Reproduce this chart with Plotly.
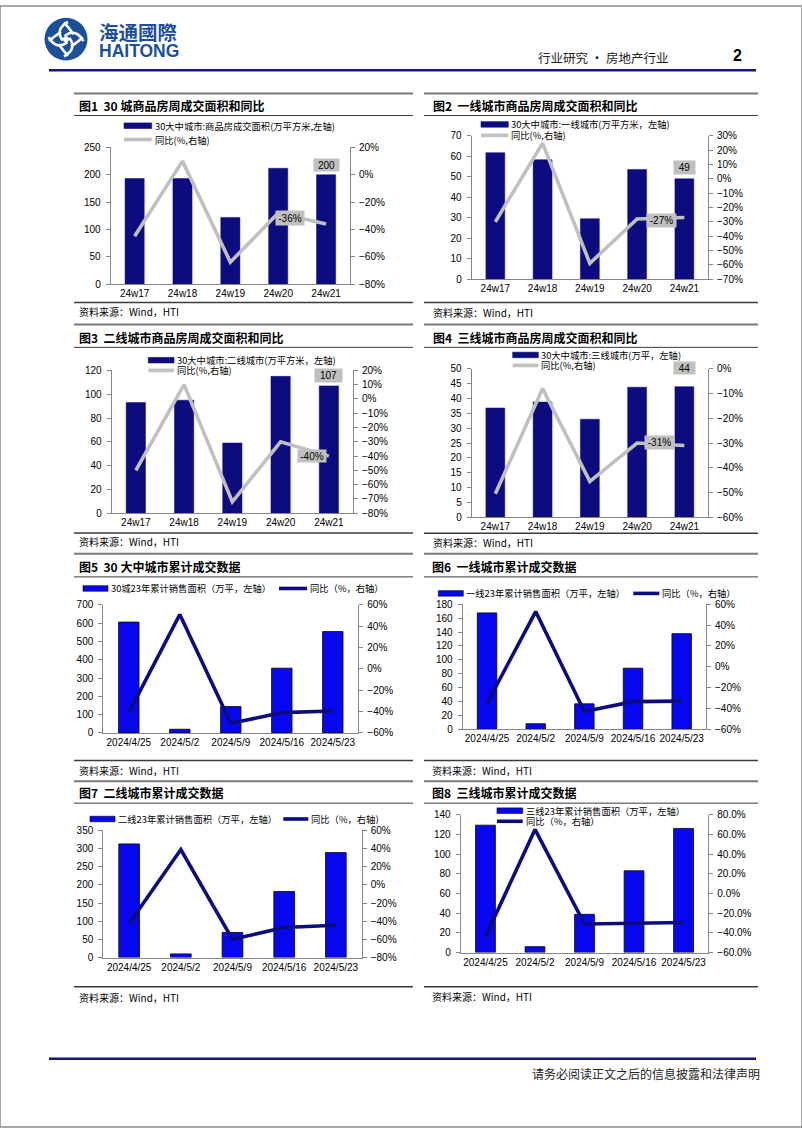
import math
import plotly.graph_objects as go

W, H = 802, 1133


def X(p):
    return p / W


def Y(p):
    return 1 - p / H


# ---------------- data ----------------
weeks = ["24w17", "24w18", "24w19", "24w20", "24w21"]
dates = ["2024/4/25", "2024/5/2", "2024/5/9", "2024/5/16", "2024/5/23"]

area_30 = [193, 193, 122, 212, 200]
yoy_30 = [-45, 10, -64, -28, -36]
area_t1 = [61.8, 58.4, 29.5, 53.6, 49]
yoy_t1 = [-30, 25, -59, -28, -27]
area_t2 = [93, 95, 59, 115, 107]
yoy_t2 = [-50, 10, -72, -30, -40]
area_t3 = [36.8, 38.8, 33, 43.8, 44]
yoy_t3 = [-50.5, -8, -45.5, -30, -31]

cum_30 = [606, 20, 144, 354, 554]
cum_yoy_30 = [-41, 51, -51, -41, -39.5]
cum_t1 = [167.6, 8, 36.6, 88, 137.7]
cum_yoy_t1 = [-35, 53, -43, -33.5, -33]
cum_t2 = [313, 10, 69, 182, 289]
cum_yoy_t2 = [-42.5, 39, -60, -47, -44.5]
cum_t3 = [129.3, 6, 38.8, 83, 126]
cum_yoy_t3 = [-44, 65, -31, -30.5, -29.5]

titles = [
    "图1  30 城商品房周成交面积和同比",
    "图2  一线城市商品房周成交面积和同比",
    "图3  二线城市商品房周成交面积和同比",
    "图4  三线城市商品房周成交面积和同比",
    "图5  30 大中城市累计成交数据",
    "图6  一线城市累计成交数据",
    "图7  二线城市累计成交数据",
    "图8  三线城市累计成交数据",
]
bar_names = [
    "30大中城市:商品房成交面积(万平方米,左轴)",
    "30大中城市:一线城市(万平方米，左轴)",
    "30大中城市:二线城市(万平方米，左轴)",
    "30大中城市:三线城市(万平，左轴)",
    "30城23年累计销售面积（万平，左轴）",
    "一线23年累计销售面积（万平，左轴）",
    "二线23年累计销售面积（万平，左轴）",
    "三线23年累计销售面积（万平，左轴）",
]
line_names = ["同比(%,右轴)"] * 4 + ["同比（%，右轴）"] * 4
source_text = "资料来源：Wind，HTI"

# ---------------- styles ----------------
NAVY = "#0c0c7e"
BLUE = "#0808f0"
GREY_LINE = "#c0c0c0"
AX = "#868686"
CJK = "Noto Sans CJK SC"
NUM = "Liberation Sans, Arial"

# layout config per panel (positions in page pixels)
panels = [
    dict(cats=weeks, bars=area_30, yoy=yoy_30, style="w",
         plot=(110.7, 350, 143, 281), l=(0, 250, 50), r=(-80, 20, 20), rfmt="",
         panel=(74, 413), top=88.5, sub=110.7, src=299.7, title_y=100.7, src_y=308.7, tx=77,
         leg=dict(rows=2, x0=124, x1=151.7, y1=121, y2=135),
         vbox=(10, 25, 12), pbox=(-36.5, 6, 28, 14)),
    dict(cats=weeks, bars=area_t1, yoy=yoy_t1, style="w",
         plot=(471.7, 708, 131.3, 276), l=(0, 70, 10), r=(-70, 30, 10), rfmt="",
         panel=(424, 758), top=88.5, sub=110.7, src=299.7, title_y=100.7, src_y=309.7, tx=431,
         leg=dict(rows=2, x0=481, x1=508.3, y1=119.7, y2=130.7),
         vbox=(11.3, 21, 13), pbox=(-23.3, -2.7, 29, 13)),
    dict(cats=weeks, bars=area_t2, yoy=yoy_t2, style="w",
         plot=(111.7, 353, 368.3, 512.7), l=(0, 120, 20), r=(-80, 20, 10), rfmt="",
         panel=(74, 413), top=322, sub=345, src=532.7, title_y=335, src_y=541.7, tx=77,
         leg=dict(rows=2, x0=148.3, x1=174, y1=358, y2=368.3),
         vbox=(10.3, 27, 13), pbox=(-17, 0.5, 28, 12)),
    dict(cats=weeks, bars=area_t3, yoy=yoy_t3, style="w",
         plot=(471.7, 708, 366.7, 516.7), l=(0, 50, 5), r=(-60, 0, 10), rfmt="",
         panel=(424, 758), top=322, sub=345, src=533, title_y=335, src_y=542.7, tx=431,
         leg=dict(rows=2, x0=512.7, x1=538.3, y1=352.7, y2=363.3),
         vbox=(18.5, 21, 12), pbox=(-24.4, 3.3, 29, 13)),
    dict(cats=dates, bars=cum_30, yoy=cum_yoy_30, style="c",
         plot=(103.3, 358.3, 605.3, 734.7), l=(0, 700, 100), r=(-60, 60, 20), rfmt="",
         panel=(74, 413), top=553.7, sub=577, src=762.7, title_y=567, src_y=772.7, tx=77,
         leg=dict(rows=1, x0=83, x1=108, y1=588.7, lx0=279, lx1=307)),
    dict(cats=dates, bars=cum_t1, yoy=cum_yoy_t1, style="c",
         plot=(462.7, 706, 604.7, 731), l=(0, 180, 20), r=(-60, 60, 20), rfmt="",
         panel=(424, 758), top=553.7, sub=577, src=762.7, title_y=567, src_y=772.7, tx=430,
         leg=dict(rows=1, x0=438.3, x1=463.3, y1=593.7, lx0=633.3, lx1=659.3)),
    dict(cats=dates, bars=cum_t2, yoy=cum_yoy_t2, style="c",
         plot=(103.3, 361.7, 833.3, 961.7), l=(0, 350, 50), r=(-80, 60, 20), rfmt="",
         panel=(74, 413), top=783.5, sub=805.7, src=991.3, title_y=795, src_y=1002.3, tx=77,
         leg=dict(rows=1, x0=90, x1=115, y1=821.7, lx0=283.3, lx1=308.3)),
    dict(cats=dates, bars=cum_t3, yoy=cum_yoy_t3, style="c",
         plot=(460.7, 708.3, 817.3, 956.7), l=(0, 140, 20), r=(-60, 80, 20), rfmt=".1f",
         panel=(424, 758), top=783.5, sub=805.7, src=991.3, title_y=795, src_y=1001.3, tx=430,
         leg=dict(rows=2, x0=497, x1=522.7, y1=813.3, y2=824)),
]

fig = go.Figure()
layout = dict(
    width=W, height=H, margin=dict(l=0, r=0, t=0, b=0),
    paper_bgcolor="white", plot_bgcolor="rgba(0,0,0,0)",
    showlegend=False, font=dict(family=NUM, color="black", size=10),
)
shapes = []
annotations = []


def xref(i):
    return "x" if i == 1 else f"x{i}"


def yref(i):
    return "y" if i == 1 else f"y{i}"


def axkey(prefix, i):
    return prefix if i == 1 else f"{prefix}{i}"


for k, p in enumerate(panels):
    i = k + 1
    ri = i + 8
    x0, x1, yt, yb = p["plot"]
    if p["style"] == "w":
        bar_color, bar_line, bar_lw = NAVY, NAVY, 0.5
        ln_color = GREY_LINE
    else:
        bar_color, bar_line, bar_lw = BLUE, "#000000", 0.8
        ln_color = NAVY

    fig.add_trace(go.Bar(
        x=p["cats"], y=p["bars"], name=bar_names[k],
        marker=dict(color=bar_color, line=dict(color=bar_line, width=bar_lw)),
        width=0.4, xaxis=xref(i), yaxis=yref(i),
    ))
    fig.add_trace(go.Scatter(
        x=p["cats"], y=p["yoy"], name=line_names[k], mode="lines",
        line=dict(color=ln_color, width=3.6),
        xaxis=xref(i), yaxis=yref(ri),
    ))

    layout[axkey("xaxis", i)] = dict(
        domain=[X(x0), X(x1)], anchor=yref(i), type="category",
        range=[-0.5, 4.5], showline=True, linecolor=AX, linewidth=1,
        ticks="", showgrid=False, zeroline=False,
        tickfont=dict(family=NUM, size=10, color="black"), fixedrange=True,
    )
    lo, hi, dt = p["l"]
    layout[axkey("yaxis", i)] = dict(
        domain=[Y(yb), Y(yt)], anchor=xref(i), range=[lo, hi], dtick=dt,
        tick0=0, showline=True, linecolor=AX, linewidth=1, ticks="outside",
        ticklen=4, tickcolor=AX, showgrid=False, zeroline=False,
        tickfont=dict(family=NUM, size=10, color="black"), ticklabelstandoff=3,
    )
    rlo, rhi, rdt = p["r"]
    layout[axkey("yaxis", ri)] = dict(
        overlaying=yref(i), anchor=xref(i), side="right",
        range=[rlo, rhi], dtick=rdt, tick0=0, ticksuffix="%",
        tickformat=p["rfmt"], showline=True, linecolor=AX, linewidth=1,
        ticks="outside", ticklen=4, tickcolor=AX, showgrid=False,
        zeroline=False, tickfont=dict(family=NUM, size=10, color="black"),
        ticklabelstandoff=2,
    )

    # panel frame lines
    px0, px1 = p["panel"]
    shapes.append(dict(type="line", xref="paper", yref="paper",
                       x0=X(px0), x1=X(px1), y0=Y(p["top"]), y1=Y(p["top"]),
                       line=dict(color="#7a7a7a", width=2)))
    shapes.append(dict(type="line", xref="paper", yref="paper",
                       x0=X(px0), x1=X(px1), y0=Y(p["sub"]), y1=Y(p["sub"]),
                       line=dict(color="#3c3c3c", width=1)))
    shapes.append(dict(type="line", xref="paper", yref="paper",
                       x0=X(px0), x1=X(px1), y0=Y(p["src"]), y1=Y(p["src"]),
                       line=dict(color="#3c3c3c", width=1.5)))
    annotations.append(dict(
        text="<b>" + titles[k] + "</b>", xref="paper", yref="paper",
        x=X(p["tx"]), y=Y(p["title_y"]), xanchor="left", yanchor="middle",
        showarrow=False, font=dict(family=CJK, size=12, color="black")))
    annotations.append(dict(
        text=source_text, xref="paper", yref="paper",
        x=X(p["tx"]), y=Y(p["src_y"]), xanchor="left", yanchor="middle",
        showarrow=False, font=dict(family=CJK, size=10, color="black")))

    # legend (drawn manually)
    lg = p["leg"]
    shapes.append(dict(type="rect", xref="paper", yref="paper",
                       x0=X(lg["x0"]), x1=X(lg["x1"]),
                       y0=Y(lg["y1"] + 2.8), y1=Y(lg["y1"] - 2.8),
                       fillcolor=bar_color, line=dict(color=bar_line, width=0.6)))
    annotations.append(dict(
        text=bar_names[k], xref="paper", yref="paper",
        x=X(lg["x1"] + 1), y=Y(lg["y1"]), xanchor="left", yanchor="middle",
        showarrow=False, font=dict(family=CJK, size=9.3, color="black")))
    if lg["rows"] == 2:
        lx0, lx1, ly = lg["x0"], lg["x1"], lg["y2"]
    else:
        lx0, lx1, ly = lg["lx0"], lg["lx1"], lg["y1"]
    shapes.append(dict(type="line", xref="paper", yref="paper",
                       x0=X(lx0), x1=X(lx1), y0=Y(ly), y1=Y(ly),
                       line=dict(color=ln_color, width=3.6)))
    annotations.append(dict(
        text=line_names[k], xref="paper", yref="paper",
        x=X(lx1 + 1), y=Y(ly), xanchor="left", yanchor="middle",
        showarrow=False, font=dict(family=CJK, size=9.3, color="black")))

    # data labels on the latest week (weekly charts)
    if "vbox" in p:
        vy, vw, vh = p["vbox"]
        v = p["bars"][-1]
        annotations.append(dict(
            text=f"{v:g}", xref=xref(i), yref=yref(i), x=p["cats"][-1], y=v,
            yshift=vy, xanchor="center", yanchor="middle", showarrow=False,
            width=vw, height=vh, bgcolor=GREY_LINE, borderpad=0,
            font=dict(family=NUM, size=10, color="black")))
        dx, dy, pw, ph = p["pbox"]
        pv = p["yoy"][-1]
        annotations.append(dict(
            text=f"{pv:g}%", xref=xref(i), yref=yref(ri), x=p["cats"][-1], y=pv,
            xshift=dx, yshift=dy, xanchor="center", yanchor="middle",
            showarrow=False, width=pw, height=ph, bgcolor=GREY_LINE, borderpad=0,
            font=dict(family=NUM, size=10, color="black")))

# ---------------- page header / footer ----------------
LOGO = "#1b4f9c"
shapes.append(dict(type="rect", xref="paper", yref="paper", x0=0, x1=1, y0=0, y1=1,
                   line=dict(color="#8a8a8a", width=1.5)))
# emblem: blue disc with four white swirl arms
ecx, ecy, er = 66, 33.5, 21.5
shapes.append(dict(type="circle", xref="paper", yref="paper",
                   x0=X(ecx - er), x1=X(ecx + er), y0=Y(ecy + er), y1=Y(ecy - er),
                   fillcolor=LOGO, line=dict(color=LOGO, width=0)))


def pt(r, ang):
    return f"{X(ecx + r * math.cos(ang)):.5f},{Y(ecy - r * math.sin(ang)):.5f}"


for a in range(4):
    th = math.radians(45 + 90 * a)
    path = ("M " + pt(3.5, th + 1.2) + " Q " + pt(15, th + 0.1) + " " + pt(17.5, th - 0.9)
            + " M " + pt(9, th - 0.2) + " Q " + pt(12.5, th + 0.6) + " " + pt(17, th + 0.9))
    shapes.append(dict(type="path", xref="paper", yref="paper", path=path,
                       line=dict(color="white", width=2.6)))
shapes.append(dict(type="circle", xref="paper", yref="paper",
                   x0=X(ecx - 3), x1=X(ecx + 3), y0=Y(ecy + 3), y1=Y(ecy - 3),
                   fillcolor="white", line=dict(color="white", width=0)))
annotations.append(dict(text="<b>海通國際</b>", xref="paper", yref="paper",
                        x=X(97), y=Y(25.3), xanchor="left", yanchor="middle",
                        showarrow=False, font=dict(family=CJK, size=19.5, color=LOGO)))
annotations.append(dict(text="<b>HAITONG</b>", xref="paper", yref="paper",
                        x=X(97), y=Y(45.5), xanchor="left", yanchor="middle",
                        showarrow=False,
                        font=dict(family="Liberation Sans Narrow, Liberation Sans", size=17.5, color=LOGO)))
annotations.append(dict(text="行业研究 • 房地产行业", xref="paper", yref="paper",
                        x=X(671), y=Y(52.5), xanchor="right", yanchor="middle",
                        showarrow=False, font=dict(family=CJK, size=12.5, color="#222222")))
annotations.append(dict(text="<b>2</b>", xref="paper", yref="paper",
                        x=X(737), y=Y(50), xanchor="center", yanchor="middle",
                        showarrow=False, font=dict(family=NUM, size=16, color="black")))
shapes.append(dict(type="line", xref="paper", yref="paper", x0=X(49), x1=X(756),
                   y0=Y(65), y1=Y(65), line=dict(color="#15157a", width=2.5)))
shapes.append(dict(type="line", xref="paper", yref="paper", x0=X(49), x1=X(756),
                   y0=Y(1064), y1=Y(1064), line=dict(color="#15157a", width=2.5)))
annotations.append(dict(text="请务必阅读正文之后的信息披露和法律声明", xref="paper", yref="paper",
                        x=X(762), y=Y(1078.5), xanchor="right", yanchor="middle",
                        showarrow=False, font=dict(family=CJK, size=12, color="#222222")))

layout["shapes"] = shapes
layout["annotations"] = annotations
fig.update_layout(**layout)
fig.write_html(
    "out.html",
    config={"displayModeBar": False},
    post_script="document.body.style.margin='0';document.body.style.padding='0';"
                "document.body.style.overflow='hidden';",
)
